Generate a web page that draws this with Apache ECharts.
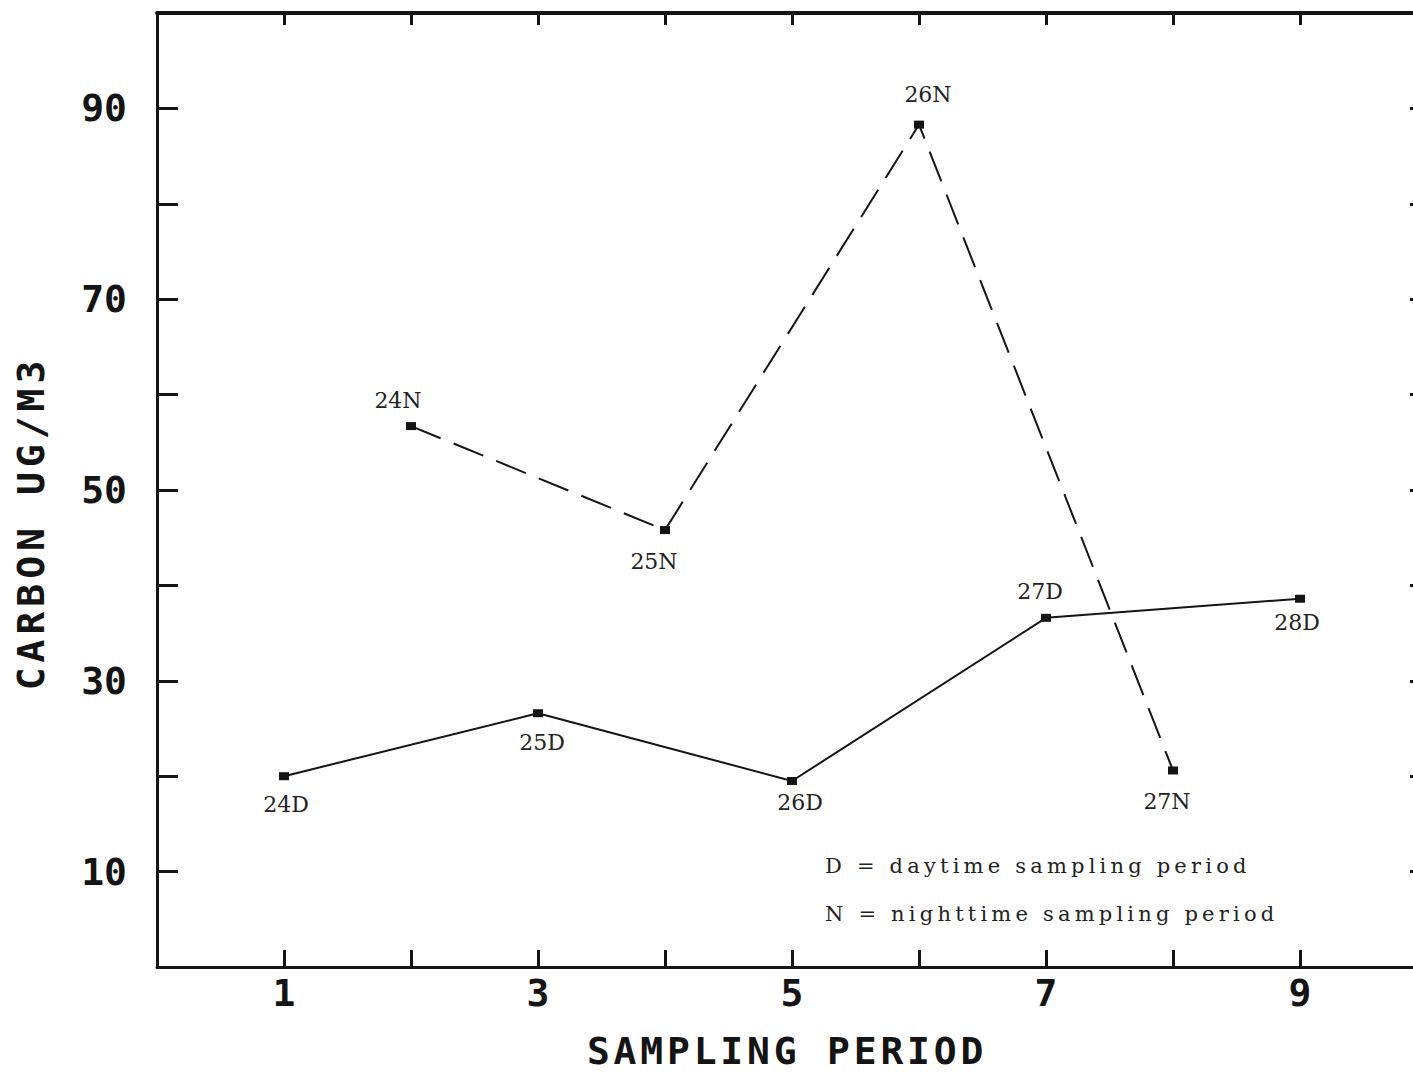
<!DOCTYPE html>
<html>
<head>
<meta charset="utf-8">
<script src="https://cdn.jsdelivr.net/npm/echarts@6/dist/echarts.min.js"></script>
<style>
  html, body { margin: 0; padding: 0; background: #fff; overflow: hidden; }
  #chart { width: 1413px; height: 1074px; }
</style>
</head>
<body>
<div id="chart"></div>
<script>
// Daytime samples (D) fall on odd sampling periods, nighttime (N) on even ones.
const dayPeriods = [1, 3, 5, 7, 9];
const dayCarbon = [20.0, 26.6, 19.5, 36.6, 38.6];
const dayTags = ['24D', '25D', '26D', '27D', '28D'];

const nightPeriods = [2, 4, 6, 8];
const nightCarbon = [56.7, 45.8, 88.3, 20.6];
const nightTags = ['24N', '25N', '26N', '27N'];

const yTickLabels = [10, 30, 50, 70, 90];
const xTickLabels = [1, 3, 5, 7, 9];

// Where each point tag sits relative to its marker: [position, dx, dy]
const dayTagPlace = [['bottom', 2, 7], ['bottom', 4, 8], ['bottom', 8, 1], ['top', -6, -5], ['bottom', -3, 3]];
const nightTagPlace = [['top', -13, -5], ['bottom', -11, 10], ['top', 9, -9], ['bottom', -6, 10]];

const INK = '#141414';
const tickFont = { color: INK, fontFamily: 'DejaVu Sans Mono', fontWeight: 'bold', fontSize: 38 };
const tagFont = { color: '#222', fontFamily: 'DejaVu Serif', fontSize: 22 };

// Typewriter-style tracking for the wider lettering
const tracking = [
  { test: t => t === 'SAMPLING PERIOD', px: 3.8 },
  { test: t => t === 'CARBON UG/M3', px: 5 },
  { test: t => /^[DN] = /.test(t), px: 4.2 }
];

function buildPoints(xs, ys, tags, place) {
  return xs.map((x, i) => ({
    value: [x, ys[i]],
    name: tags[i],
    label: {
      show: true,
      position: place[i][0],
      offset: [place[i][1], place[i][2]],
      formatter: tags[i]
    }
  }));
}

const chart = echarts.init(document.getElementById('chart'), null, { renderer: 'svg' });

const axisLine = { show: true, onZero: false, lineStyle: { color: INK, width: 3 } };

chart.setOption({
  backgroundColor: '#fff',
  animation: false,
  grid: { left: 157, top: 13, right: -14, bottom: 107, containLabel: false, outerBoundsMode: 'none' },
  xAxis: [
    {
      type: 'value', position: 'bottom', min: 0, max: 10, interval: 1,
      axisLine: axisLine,
      axisTick: { show: true, inside: true, length: 17, lineStyle: { color: INK, width: 3 } },
      axisLabel: {
        margin: 7, ...tickFont,
        formatter: v => (xTickLabels.indexOf(v) >= 0 ? String(v) : '')
      },
      splitLine: { show: false }
    },
    {
      type: 'value', position: 'top', min: 0, max: 10, interval: 1,
      axisLine: { show: true, onZero: false, lineStyle: { color: INK, width: 4 } },
      axisTick: { show: true, inside: true, length: 12, lineStyle: { color: INK, width: 3 } },
      axisLabel: { show: false },
      splitLine: { show: false }
    }
  ],
  yAxis: [
    {
      type: 'value', position: 'left', min: 0, max: 100, interval: 10,
      axisLine: axisLine,
      axisTick: { show: true, inside: true, length: 21, lineStyle: { color: INK, width: 3 } },
      axisLabel: {
        margin: 30, ...tickFont,
        formatter: v => (yTickLabels.indexOf(v) >= 0 ? String(v) : '')
      },
      splitLine: { show: false }
    },
    {
      type: 'value', position: 'right', min: 0, max: 100, interval: 10,
      axisLine: axisLine,
      axisTick: { show: true, inside: true, length: 17, lineStyle: { color: INK, width: 3 } },
      axisLabel: { show: false },
      splitLine: { show: false }
    }
  ],
  graphic: [
    {
      type: 'text',
      rotation: Math.PI / 2,
      x: 31, y: 523,
      style: {
        text: 'CARBON UG/M3', fill: INK,
        font: 'bold 38px "DejaVu Sans Mono"',
        align: 'center', verticalAlign: 'middle'
      }
    },
    {
      type: 'text', x: 787, y: 1051,
      style: {
        text: 'SAMPLING PERIOD', fill: INK,
        font: 'bold 38px "DejaVu Sans Mono"',
        align: 'center', verticalAlign: 'middle'
      }
    },
    {
      type: 'text', x: 825, y: 866,
      style: {
        text: 'D = daytime sampling period', fill: '#222',
        font: '21px "DejaVu Serif"', align: 'left', verticalAlign: 'middle'
      }
    },
    {
      type: 'text', x: 825, y: 914,
      style: {
        text: 'N = nighttime sampling period', fill: '#222',
        font: '21px "DejaVu Serif"', align: 'left', verticalAlign: 'middle'
      }
    }
  ],
  series: [
    {
      name: 'Daytime',
      type: 'line',
      xAxisIndex: 0, yAxisIndex: 0,
      data: buildPoints(dayPeriods, dayCarbon, dayTags, dayTagPlace),
      symbol: 'rect', symbolSize: [10, 8],
      itemStyle: { color: INK },
      lineStyle: { color: INK, width: 2, type: 'solid' },
      label: { ...tagFont, distance: 6 },
      z: 3
    },
    {
      name: 'Nighttime',
      type: 'line',
      xAxisIndex: 0, yAxisIndex: 0,
      data: buildPoints(nightPeriods, nightCarbon, nightTags, nightTagPlace),
      symbol: 'rect', symbolSize: [10, 8],
      itemStyle: { color: INK },
      lineStyle: { color: INK, width: 2, type: [32, 14] },
      label: { ...tagFont, distance: 6 },
      z: 3
    }
  ]
});

function applyTracking() {
  document.querySelectorAll('#chart svg text').forEach(el => {
    const t = el.textContent;
    const rule = tracking.find(r => r.test(t));
    if (rule) el.style.letterSpacing = rule.px + 'px';
  });
}
chart.on('finished', applyTracking);
setTimeout(applyTracking, 50);
</script>
</body>
</html>
